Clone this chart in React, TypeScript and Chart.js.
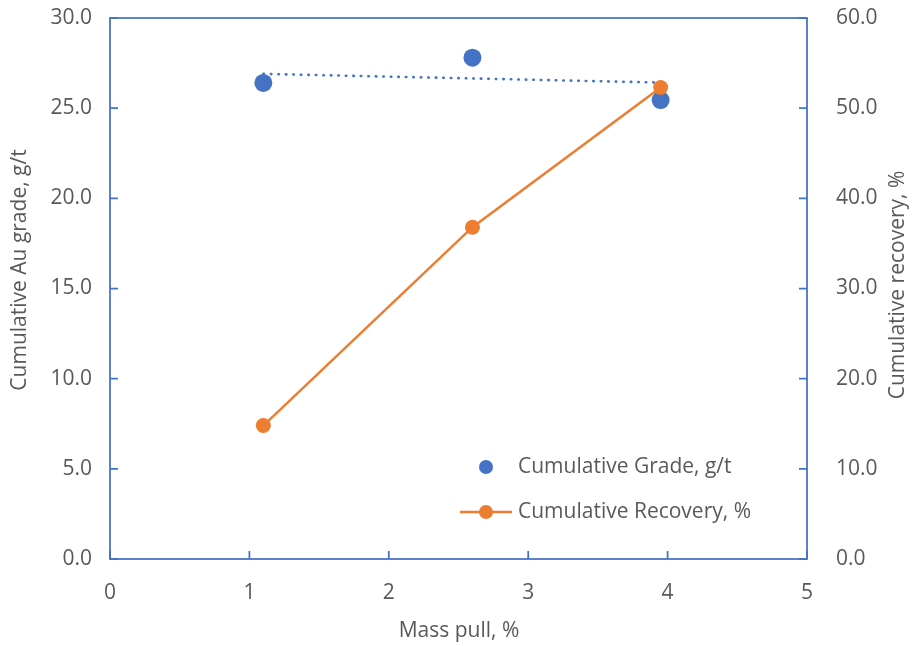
import React, { useEffect, useRef } from "react";
import { Chart, registerables } from "chart.js";

Chart.register(...registerables);

// Mass pull (%) for each cumulative concentrate
const massPull = [1.1, 2.6, 3.95];
// Cumulative Au grade, g/t
const grade = [26.4, 27.8, 25.45];
// Cumulative recovery, %
const recovery = [14.8, 36.8, 52.3];
// Trend line through the grade points (end points)
const gradeTrendX = [1.1, 3.95];
const gradeTrendY = [26.9, 26.42];

const seriesNames = ["Cumulative Grade, g/t", "Cumulative Recovery, %"];
const xTitle = "Mass pull, %";
const yTitle = "Cumulative Au grade, g/t";
const y2Title = "Cumulative recovery, %";

const BLUE = "#4472C4";
const ORANGE = "#ED7D31";
const TEXT = "#595959";
const FONT = "'Open Sans', 'Noto Sans', sans-serif";
const FONT_SIZE = 21;

// Box frame with inward ticks, axis titles and an in-plot legend
const decorPlugin = {
  id: "decor",
  beforeDatasetsDraw(chart: any) {
    const { ctx, chartArea } = chart;
    const { left, right, top, bottom } = chartArea;
    const tick = 8;
    ctx.save();
    ctx.strokeStyle = BLUE;
    ctx.lineWidth = 1.75;
    ctx.strokeRect(left, top, right - left, bottom - top);
    ctx.beginPath();
    const x = chart.scales.x;
    x.ticks.forEach((_: any, i: number) => {
      const px = x.getPixelForTick(i);
      ctx.moveTo(px, bottom);
      ctx.lineTo(px, bottom - tick);
    });
    const y = chart.scales.y;
    y.ticks.forEach((_: any, i: number) => {
      const py = y.getPixelForTick(i);
      ctx.moveTo(left, py);
      ctx.lineTo(left + tick, py);
    });
    const y2 = chart.scales.y2;
    y2.ticks.forEach((_: any, i: number) => {
      const py = y2.getPixelForTick(i);
      ctx.moveTo(right, py);
      ctx.lineTo(right - tick, py);
    });
    ctx.stroke();
    ctx.restore();
  },
  afterDraw(chart: any) {
    const { ctx } = chart;
    ctx.save();
    ctx.fillStyle = TEXT;
    ctx.font = `${FONT_SIZE}px ${FONT}`;
    ctx.textAlign = "center";
    ctx.textBaseline = "middle";
    // axis titles
    ctx.fillText(xTitle, 459, 631);
    ctx.save();
    ctx.translate(20, 270);
    ctx.rotate(-Math.PI / 2);
    ctx.fillText(yTitle, 0, 0);
    ctx.restore();
    ctx.save();
    ctx.translate(898, 285);
    ctx.rotate(-Math.PI / 2);
    ctx.fillText(y2Title, 0, 0);
    ctx.restore();

    // legend
    const ds = chart.data.datasets;
    const gradeDs = ds[0];
    const recDs = ds[2];
    ctx.textAlign = "left";
    ctx.fillStyle = gradeDs.backgroundColor;
    ctx.beginPath();
    ctx.arc(486, 467, 7, 0, Math.PI * 2);
    ctx.fill();
    ctx.fillStyle = TEXT;
    ctx.fillText(gradeDs.label, 518, 467);

    ctx.strokeStyle = recDs.borderColor;
    ctx.lineWidth = recDs.borderWidth;
    ctx.beginPath();
    ctx.moveTo(460, 512);
    ctx.lineTo(512, 512);
    ctx.stroke();
    ctx.fillStyle = recDs.pointBackgroundColor;
    ctx.beginPath();
    ctx.arc(486, 512, 7, 0, Math.PI * 2);
    ctx.fill();
    ctx.fillStyle = TEXT;
    ctx.fillText(recDs.label, 518, 512);
    ctx.restore();
  },
};

export default function App() {
  const canvasRef = useRef<HTMLCanvasElement | null>(null);

  useEffect(() => {
    const canvas = canvasRef.current;
    if (!canvas) return;

    const gradePoints = massPull.map((x, i) => ({ x, y: grade[i] }));
    const recoveryPoints = massPull.map((x, i) => ({ x, y: recovery[i] }));
    const trendPoints = gradeTrendX.map((x, i) => ({ x, y: gradeTrendY[i] }));

    const tickFont = { family: FONT, size: FONT_SIZE };
    const noGrid = { display: false, drawTicks: false };

    const chart = new Chart(canvas, {
      type: "scatter",
      data: {
        datasets: [
          {
            label: seriesNames[0],
            data: gradePoints,
            yAxisID: "y",
            backgroundColor: BLUE,
            borderColor: BLUE,
            pointRadius: 9,
            pointBorderWidth: 0,
            showLine: false,
            order: 2,
          },
          {
            label: "trend",
            data: trendPoints,
            yAxisID: "y",
            showLine: true,
            borderColor: BLUE,
            borderWidth: 2.6,
            borderDash: [0.5, 7],
            borderCapStyle: "round",
            pointRadius: 0,
            order: 1,
          },
          {
            label: seriesNames[1],
            data: recoveryPoints,
            yAxisID: "y2",
            showLine: true,
            borderColor: ORANGE,
            backgroundColor: ORANGE,
            pointBackgroundColor: ORANGE,
            borderWidth: 2.5,
            pointRadius: 7.5,
            pointBorderWidth: 0,
            order: 0,
          },
        ],
      },
      options: {
        responsive: false,
        animation: false,
        events: [],
        layout: { padding: { top: 18, left: 0, right: 0, bottom: 0 } },
        plugins: {
          legend: { display: false },
          tooltip: { enabled: false },
        },
        scales: {
          x: {
            type: "linear",
            min: 0,
            max: 5,
            grid: noGrid,
            border: { display: false },
            ticks: {
              stepSize: 1,
              padding: 21,
              color: TEXT,
              font: tickFont,
              callback: (v: any) => String(v),
            },
            afterFit: (s: any) => {
              s.height = 87;
              s.paddingLeft = 0;
              s.paddingRight = 0;
            },
          },
          y: {
            type: "linear",
            position: "left",
            min: 0,
            max: 30,
            grid: noGrid,
            border: { display: false },
            ticks: {
              stepSize: 5,
              padding: 18,
              color: TEXT,
              font: tickFont,
              callback: (v: any) => Number(v).toFixed(1),
            },
            afterFit: (s: any) => {
              s.width = 110;
              s.paddingTop = 0;
              s.paddingBottom = 0;
            },
          },
          y2: {
            type: "linear",
            position: "right",
            min: 0,
            max: 60,
            grid: noGrid,
            border: { display: false },
            ticks: {
              stepSize: 10,
              padding: 29,
              color: TEXT,
              font: tickFont,
              callback: (v: any) => Number(v).toFixed(1),
            },
            afterFit: (s: any) => {
              s.width = 105;
              s.paddingTop = 0;
              s.paddingBottom = 0;
            },
          },
        },
      },
      plugins: [decorPlugin],
    });

    return () => chart.destroy();
  }, []);

  return (
    <div style={{ position: "absolute", left: 0, top: 0, width: 912, height: 646, background: "#fff" }}>
      <canvas ref={canvasRef} width={912} height={646} style={{ display: "block" }} />
    </div>
  );
}
